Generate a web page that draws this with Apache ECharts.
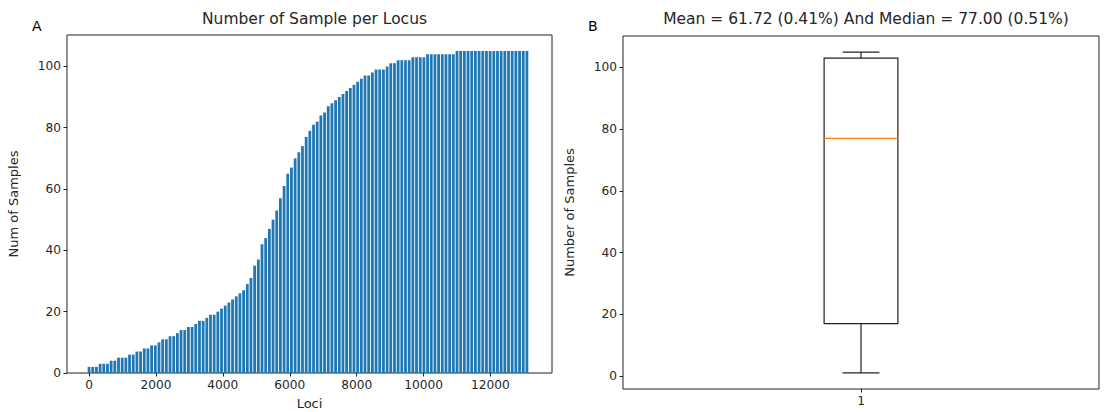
<!DOCTYPE html>
<html>
<head>
<meta charset="utf-8">
<script src="https://cdn.jsdelivr.net/npm/echarts@6/dist/echarts.min.js"></script>
<style>
  html, body { margin: 0; padding: 0; background: #fff; }
  #chart { width: 1105px; height: 412px; }
</style>
</head>
<body>
<div id="chart"></div>
<script>
// ---- Data ----
// Panel A: sorted number of samples per locus (one stripe every 110 loci)
const lociStep = 110;
const sampleCounts = [
  2, 2, 2, 3, 3, 3, 4, 4, 5, 5,
  5, 6, 6, 7, 7, 8, 8, 9, 9, 10,
  11, 11, 12, 12, 13, 14, 14, 15, 15, 16,
  17, 17, 18, 19, 19, 20, 21, 22, 23, 24,
  25, 26, 27, 29, 31, 35, 37, 42, 44, 47,
  50, 53, 57, 61, 65, 67, 70, 72, 74, 77,
  79, 81, 82, 84, 85, 87, 88, 89, 90, 91,
  92, 93, 94, 95, 96, 97, 97, 98, 99, 99,
  99, 100, 101, 101, 102, 102, 102, 102, 103, 103,
  103, 103, 104, 104, 104, 104, 104, 104, 104, 104,
  105, 105, 105, 105, 105, 105, 105, 105, 105, 105,
  105, 105, 105, 105, 105, 105, 105, 105, 105, 105
];
const lociTicks = [0, 2000, 4000, 6000, 8000, 10000, 12000];
const countTicks = [0, 20, 40, 60, 80, 100];

// Panel B: box plot summary [category, min, Q1, median, Q3, max]
const boxCategories = ['1'];
const boxStats = [[0, 1, 17, 77, 103, 105]];
const meanValue = 61.72, meanPct = 0.41, medianValue = 77.00, medianPct = 0.51;

const titleA = 'Number of Sample per Locus';
const titleB = 'Mean = ' + meanValue.toFixed(2) + ' (' + meanPct.toFixed(2) + '%) And Median = ' +
               medianValue.toFixed(2) + ' (' + medianPct.toFixed(2) + '%)';

// ---- Chart ----
const barData = sampleCounts.map((v, i) => [i * lociStep, v]);
const FONT = 'DejaVu Sans';
const TXT = '#262626';

const chart = echarts.init(document.getElementById('chart'), null, { renderer: 'svg' });

const frameA = { left: 67, top: 35, width: 485, height: 338 };
const frameB = { left: 623, top: 36, width: 476, height: 353 };

const axisLabelStyle = { color: TXT, fontFamily: FONT, fontSize: 12.2, formatter: v => String(v) };
const nameStyle = { color: TXT, fontFamily: FONT, fontSize: 13 };
const tickStyle = { show: true, length: 3.5, inside: false, lineStyle: { color: '#222', width: 1 } };
const noLine = { show: false, onZero: false };
const gridBase = { show: true, borderColor: '#222', borderWidth: 1, backgroundColor: 'transparent',
                   containLabel: false, outerBoundsMode: 'none' };

chart.setOption({
  animation: false,
  textStyle: { fontFamily: FONT },
  title: [
    { text: titleA, left: frameA.left + frameA.width / 2, top: 6, textAlign: 'center',
      textStyle: { fontFamily: FONT, fontSize: 15.5, fontWeight: 'normal', color: TXT } },
    { text: titleB, left: frameB.left + frameB.width / 2, top: 6, textAlign: 'center',
      textStyle: { fontFamily: FONT, fontSize: 15.5, fontWeight: 'normal', color: TXT } },
    { text: 'A', left: 27, top: 14,
      textStyle: { fontFamily: FONT, fontSize: 14, fontWeight: 'normal', color: '#000' } },
    { text: 'B', left: 583, top: 14,
      textStyle: { fontFamily: FONT, fontSize: 14, fontWeight: 'normal', color: '#000' } }
  ],
  grid: [
    Object.assign({}, gridBase, frameA),
    Object.assign({}, gridBase, frameB)
  ],
  xAxis: [
    {
      type: 'value', gridIndex: 0, min: -660, max: 13840,
      name: 'Loci', nameLocation: 'middle', nameGap: 24, nameTextStyle: nameStyle,
      axisLine: noLine,
      axisTick: Object.assign({ customValues: lociTicks }, tickStyle),
      axisLabel: Object.assign({ customValues: lociTicks, margin: 6 }, axisLabelStyle),
      splitLine: { show: false }
    },
    {
      type: 'category', gridIndex: 1, data: boxCategories, boundaryGap: true,
      axisLine: noLine,
      axisTick: Object.assign({ alignWithLabel: true }, tickStyle),
      axisLabel: Object.assign({ margin: 6 }, axisLabelStyle),
      splitLine: { show: false }
    }
  ],
  yAxis: [
    {
      type: 'value', gridIndex: 0, min: 0, max: 110.25,
      name: 'Num of Samples', nameLocation: 'middle', nameGap: 47, nameTextStyle: nameStyle,
      axisLine: noLine,
      axisTick: Object.assign({ customValues: countTicks }, tickStyle),
      axisLabel: Object.assign({ customValues: countTicks, margin: 6 }, axisLabelStyle),
      splitLine: { show: false }
    },
    {
      type: 'value', gridIndex: 1, min: -4.2, max: 110.2,
      name: 'Number of Samples', nameLocation: 'middle', nameGap: 47, nameTextStyle: nameStyle,
      axisLine: noLine,
      axisTick: Object.assign({ customValues: countTicks }, tickStyle),
      axisLabel: Object.assign({ customValues: countTicks, margin: 6 }, axisLabelStyle),
      splitLine: { show: false }
    }
  ],
  series: [
    {
      type: 'bar', xAxisIndex: 0, yAxisIndex: 0, data: barData,
      barWidth: 2.8, itemStyle: { color: '#1f77b4' }, silent: true
    },
    {
      type: 'custom', xAxisIndex: 1, yAxisIndex: 1, data: boxStats, silent: true,
      encode: { x: 0, y: [1, 2, 3, 4, 5] },
      renderItem: function (params, api) {
        const cat = api.value(0);
        const yOf = v => api.coord([cat, v])[1];
        const cx = api.coord([cat, api.value(3)])[0];
        const band = api.size([1, 0])[0];
        const bw = band * 0.155, cap = bw / 2;
        const yMin = yOf(api.value(1)), yQ1 = yOf(api.value(2)), yMed = yOf(api.value(3)),
              yQ3 = yOf(api.value(4)), yMax = yOf(api.value(5));
        const blk = { stroke: '#222', lineWidth: 1.2, fill: null };
        return {
          type: 'group',
          children: [
            { type: 'rect', shape: { x: cx - bw / 2, y: yQ3, width: bw, height: yQ1 - yQ3 }, style: Object.assign({}, blk, { fill: 'none' }) },
            { type: 'line', shape: { x1: cx, y1: yQ1, x2: cx, y2: yMin }, style: blk },
            { type: 'line', shape: { x1: cx, y1: yQ3, x2: cx, y2: yMax }, style: blk },
            { type: 'line', shape: { x1: cx - cap / 2, y1: yMin, x2: cx + cap / 2, y2: yMin }, style: blk },
            { type: 'line', shape: { x1: cx - cap / 2, y1: yMax, x2: cx + cap / 2, y2: yMax }, style: blk },
            { type: 'line', shape: { x1: cx - bw / 2, y1: yMed, x2: cx + bw / 2, y2: yMed }, style: { stroke: '#ff7f0e', lineWidth: 1.2 } }
          ]
        };
      }
    }
  ]
});
</script>
</body>
</html>
